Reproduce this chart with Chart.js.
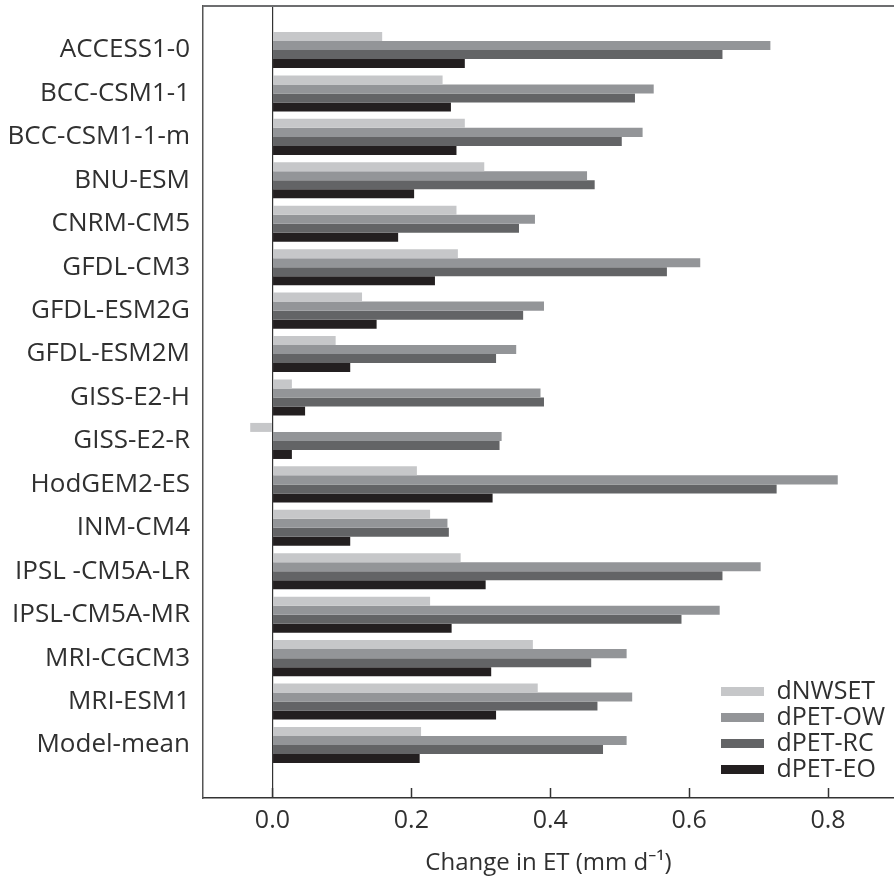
<!DOCTYPE html>
<html>
<head>
<meta charset="utf-8">
<script src="https://cdn.jsdelivr.net/npm/chart.js@4.4.1/dist/chart.umd.min.js"></script>
<style>
  html, body { margin: 0; padding: 0; background: #fff; overflow: hidden; }
  #wrap { width: 894px; height: 878px; position: relative; }
</style>
</head>
<body>
<div id="wrap"><canvas id="etChart"></canvas></div>
<script>
// model names, top to bottom
const models = ['ACCESS1-0', 'BCC-CSM1-1', 'BCC-CSM1-1-m', 'BNU-ESM', 'CNRM-CM5', 'GFDL-CM3',
  'GFDL-ESM2G', 'GFDL-ESM2M', 'GISS-E2-H', 'GISS-E2-R', 'HodGEM2-ES', 'INM-CM4',
  'IPSL -CM5A-LR', 'IPSL-CM5A-MR', 'MRI-CGCM3', 'MRI-ESM1', 'Model-mean'];

// change in ET (mm/d)
const dNWSET = [0.158, 0.245, 0.277, 0.305, 0.265, 0.267, 0.129, 0.091, 0.028, -0.032, 0.208, 0.227, 0.271, 0.227, 0.375, 0.382, 0.214];
const dPetOW = [0.717, 0.549, 0.533, 0.453, 0.378, 0.616, 0.391, 0.351, 0.386, 0.330, 0.814, 0.252, 0.703, 0.644, 0.510, 0.518, 0.510];
const dPetRC = [0.648, 0.522, 0.503, 0.464, 0.355, 0.568, 0.361, 0.322, 0.391, 0.327, 0.726, 0.254, 0.648, 0.589, 0.459, 0.468, 0.476];
const dPetEO = [0.277, 0.257, 0.265, 0.204, 0.181, 0.234, 0.150, 0.112, 0.047, 0.028, 0.317, 0.112, 0.307, 0.258, 0.315, 0.322, 0.212];

const xTicks = [0, 0.2, 0.4, 0.6, 0.8];

const FONT = "'Open Sans', 'Noto Sans', sans-serif";
const TEXT = '#303030';

function series(label, values, color) {
  return {
    label,
    data: values.map((v, i) => ({ x: v, y: i })),
    backgroundColor: color,
    borderWidth: 0,
    categoryPercentage: 0.83,
    barPercentage: 1.0
  };
}

// frame line on top + inward tick marks on the x axis
const frame = {
  id: 'frame',
  afterDraw(chart) {
    const { ctx, chartArea: a } = chart;
    const xs = chart.scales.x;
    ctx.save();
    ctx.strokeStyle = '#6d6e70';
    ctx.lineWidth = 2;
    ctx.beginPath();
    ctx.moveTo(a.left, a.top);
    ctx.lineTo(a.right, a.top);
    ctx.stroke();
    ctx.strokeStyle = '#333';
    ctx.lineWidth = 1.5;
    xTicks.forEach(t => {
      const px = Math.round(xs.getPixelForValue(t)) + 0.5;
      ctx.beginPath();
      ctx.moveTo(px, a.bottom);
      ctx.lineTo(px, a.bottom - 10);
      ctx.stroke();
    });
    ctx.restore();
  }
};

// move the legend to the lower right corner of the plot
const legendPlace = {
  id: 'legendPlace',
  afterLayout(chart) {
    const lg = chart.legend, a = chart.chartArea;
    if (!lg) return;
    const w = lg.width, h = lg.height;
    lg.left = a.right - 174;
    lg.right = lg.left + w;
    lg.bottom = a.bottom - 15;
    lg.top = lg.bottom - h;
  }
};

new Chart(document.getElementById('etChart'), {
  type: 'bar',
  data: {
    datasets: [
      series('dNWSET', dNWSET, '#c6c7c9'),
      series('dPET-OW', dPetOW, '#939598'),
      series('dPET-RC', dPetRC, '#636466'),
      series('dPET-EO', dPetEO, '#231f20')
    ]
  },
  options: {
    indexAxis: 'y',
    responsive: true,
    maintainAspectRatio: false,
    animation: false,
    layout: { padding: { top: 6, left: 0, right: 0, bottom: 0 } },
    plugins: {
      tooltip: { enabled: false },
      legend: {
        position: 'chartArea',
        align: 'end',
        labels: {
          boxWidth: 43,
          boxHeight: 9,
          padding: 1,
          color: TEXT,
          font: { family: FONT, size: 25 }
        }
      }
    },
    scales: {
      x: {
        type: 'linear',
        min: -0.1,
        max: 0.895,
        afterBuildTicks: s => { s.ticks = xTicks.map(v => ({ value: v })); },
        afterFit: s => { s.height = 80; s.paddingLeft = 0; s.paddingRight = 0; },
        grid: {
          drawTicks: false,
          lineWidth: 1.2,
          color: c => (c.tick && c.tick.value === 0 ? '#333' : 'rgba(0,0,0,0)')
        },
        border: { display: true, color: '#333', width: 1.5 },
        ticks: {
          padding: 8,
          color: TEXT,
          font: { family: FONT, size: 25 },
          callback: v => v.toFixed(1)
        },
        title: {
          display: true,
          text: 'Change in ET (mm d\u207B\u00B9)',
          color: TEXT,
          font: { family: FONT, size: 24 },
          padding: { top: 0, bottom: 0 }
        }
      },
      y: {
        type: 'linear',
        reverse: true,
        offset: false,
        min: -1.013,
        max: 17.22,
        afterBuildTicks: s => { s.ticks = models.map((m, i) => ({ value: i })); },
        afterFit: s => { s.width = 203; s.paddingTop = 0; s.paddingBottom = 0; },
        grid: { drawTicks: false, offset: false, color: 'rgba(0,0,0,0)' },
        border: { display: true, color: '#555', width: 1.5 },
        ticks: {
          padding: 13,
          color: TEXT,
          font: { family: FONT, size: 26 },
          callback: v => models[v]
        }
      }
    }
  },
  plugins: [frame, legendPlace]
});
</script>
</body>
</html>
